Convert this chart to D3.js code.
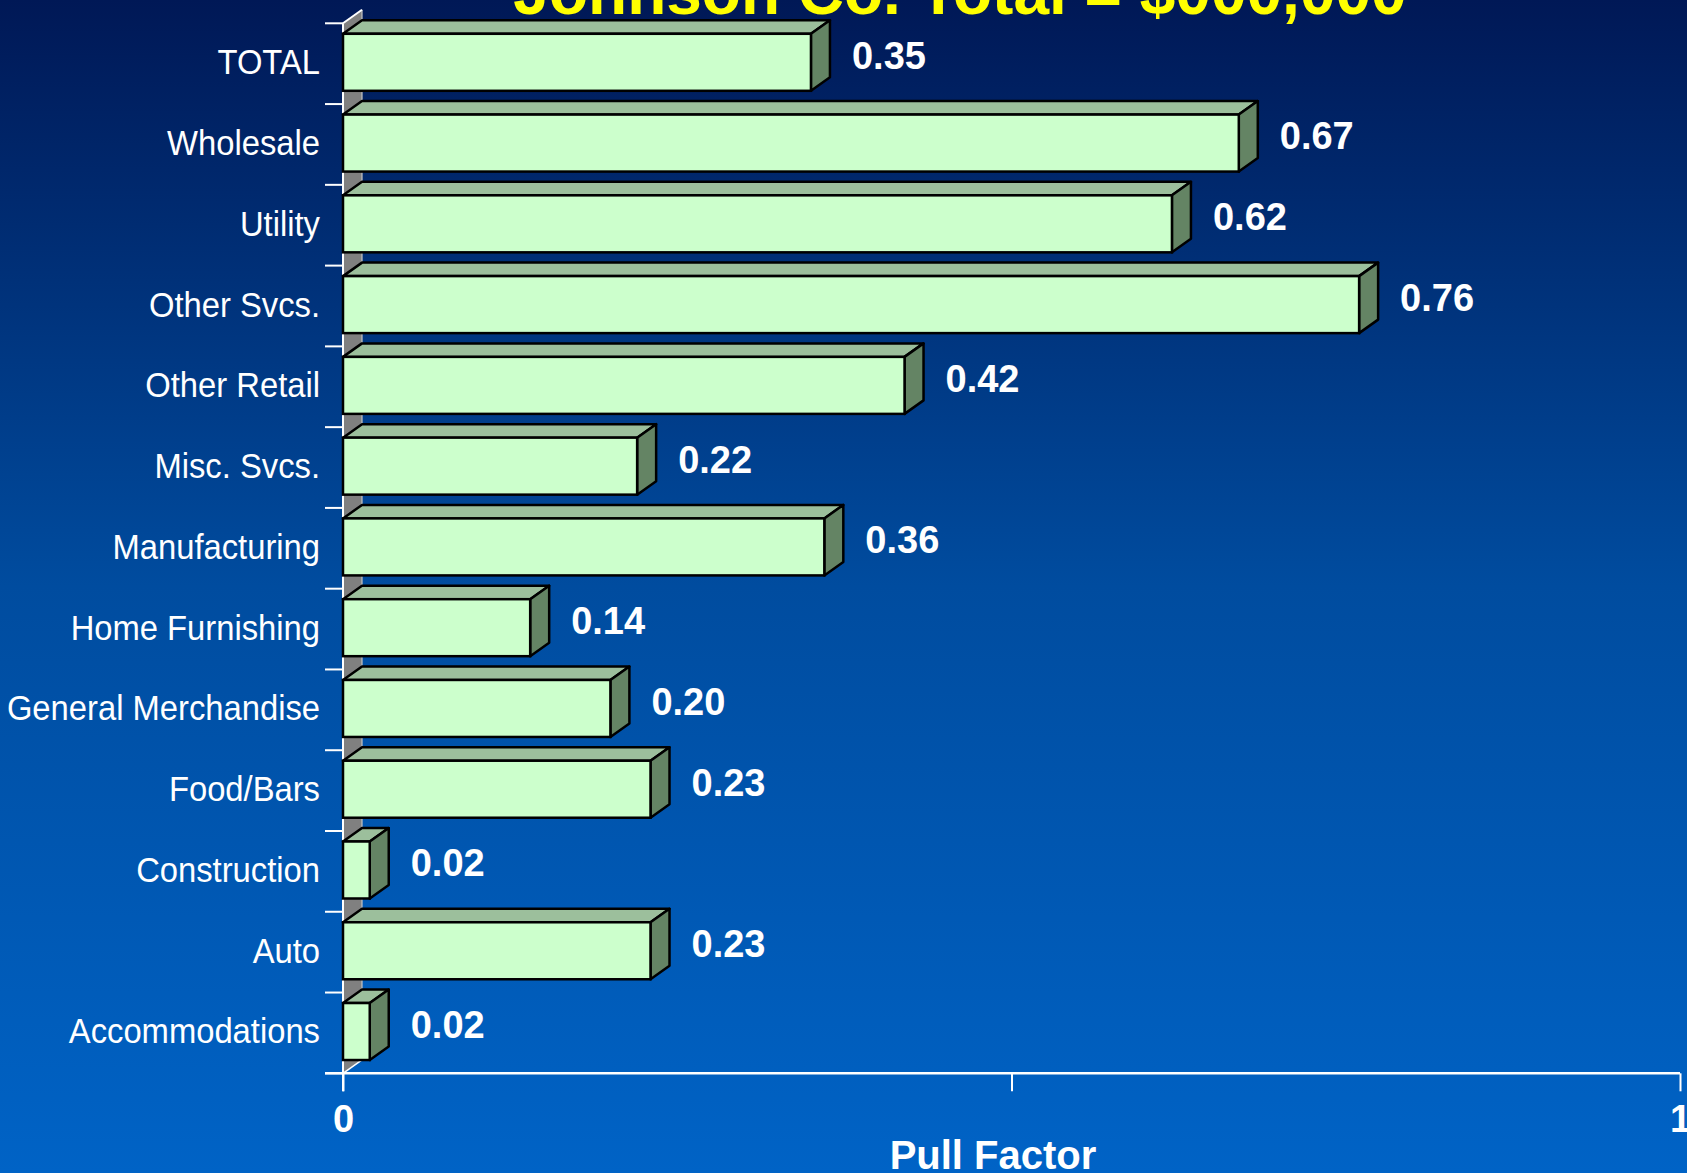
<!DOCTYPE html>
<html lang="en">
<head>
    <meta charset="UTF-8">
    <title>Johnson Co. Pull Factor</title>
    <script src="https://d3js.org/d3.v7.min.js"></script>
    <style>
        body { margin: 0; overflow: hidden; }
        svg { display: block; }
        .cat_label { font-family: "Liberation Sans", Arial, sans-serif; font-size: 36px; fill: #ffffff; }
        .val_label { font-family: "Liberation Sans", Arial, sans-serif; font-size: 38px; font-weight: bold; fill: #ffffff; }
    </style>
</head>
<body>
<svg width="1687" height="1173"></svg>

<script>
    // chart data
    const categories = ["TOTAL", "Wholesale", "Utility", "Other Svcs.", "Other Retail", "Misc. Svcs.",
        "Manufacturing", "Home Furnishing", "General Merchandise", "Food/Bars", "Construction", "Auto", "Accommodations"];
    const pullFactors = [0.35, 0.67, 0.62, 0.76, 0.42, 0.22, 0.36, 0.14, 0.20, 0.23, 0.02, 0.23, 0.02];
    const xTickValues = [0, 0.5, 1];
    const xTickLabels = ["0", "", "1"];
    const titleText = "Johnson Co. Total = $000,000";
    const axisTitle = "Pull Factor";

    const W = 1687, H = 1173;
    const plotLeft = 343, plotRight = 1680, plotTop = 23.3, plotBottom = 1073.3;
    const depthX = 19, depthY = 13.5;      // 3d offset of the bars
    const barOffset = 10.5, barH = 57;
    const edge = 2.5;

    let svg = d3.select("svg");

    // background gradient
    let grad = svg.append("defs").append("linearGradient")
        .attr("id", "bg").attr("x1", 0).attr("y1", 0).attr("x2", 0).attr("y2", 1);
    grad.append("stop").attr("offset", "0%").attr("stop-color", "#001856");
    grad.append("stop").attr("offset", "50%").attr("stop-color", "#004c9f");
    grad.append("stop").attr("offset", "100%").attr("stop-color", "#0063c6");
    svg.append("rect").attr("width", W).attr("height", H).attr("fill", "url(#bg)");

    let x = d3.scaleLinear().domain([0, 1]).range([plotLeft, plotRight]);
    let y = d3.scaleBand().domain(categories).range([plotTop, plotBottom]).padding(0);

    // gray side wall
    svg.append("path")
        .attr("d", `M${plotLeft},${plotTop} L${plotLeft + depthX},${plotTop - depthY} L${plotLeft + depthX},${plotBottom - depthY} L${plotLeft},${plotBottom} Z`)
        .attr("fill", "#808080");
    svg.append("line")
        .attr("x1", plotLeft + depthX).attr("x2", plotLeft + depthX)
        .attr("y1", plotTop - depthY).attr("y2", plotBottom - depthY)
        .attr("stroke", "#c4c4c4").attr("stroke-width", 1.2);
    svg.append("line")
        .attr("x1", plotLeft).attr("y1", plotTop).attr("x2", plotLeft + depthX).attr("y2", plotTop - depthY)
        .attr("stroke", "#ffffff").attr("stroke-width", 2);
    svg.append("line")
        .attr("x1", plotLeft).attr("y1", plotBottom).attr("x2", plotLeft + depthX).attr("y2", plotBottom - depthY)
        .attr("stroke", "#ffffff").attr("stroke-width", 1.5);

    // category axis: line + ticks between categories
    let boundaries = categories.map(c => y(c)).concat([plotBottom]);
    svg.append("g").selectAll("line")
        .data(boundaries)
        .enter()
        .append("line")
        .attr("x1", plotLeft - 18).attr("x2", plotLeft)
        .attr("y1", d => d).attr("y2", d => d)
        .attr("stroke", "#ffffff").attr("stroke-width", 2);
    svg.append("line")
        .attr("x1", plotLeft).attr("x2", plotLeft).attr("y1", plotTop).attr("y2", plotBottom + 18)
        .attr("stroke", "#ffffff").attr("stroke-width", 2);

    // value axis
    let xAxis = svg.append("g")
        .attr("transform", `translate(0,${plotBottom})`)
        .call(d3.axisBottom(x).tickValues(xTickValues).tickSize(18).tickPadding(14)
            .tickFormat((d, i) => xTickLabels[i]));
    xAxis.select(".domain").remove();
    xAxis.selectAll(".tick line").attr("stroke", "#ffffff").attr("stroke-width", 2);
    xAxis.selectAll(".tick text")
        .attr("fill", "#ffffff")
        .attr("font-family", "Liberation Sans, Arial, sans-serif")
        .attr("font-size", "38px")
        .attr("font-weight", "bold");
    svg.append("line")
        .attr("x1", plotLeft - 18).attr("x2", plotRight).attr("y1", plotBottom).attr("y2", plotBottom)
        .attr("stroke", "#ffffff").attr("stroke-width", 2.5);

    // bars
    let bars = svg.append("g").selectAll("g")
        .data(categories.map((c, i) => ({cat: c, value: pullFactors[i]})))
        .enter()
        .append("g");

    bars.append("path")   // top face
        .attr("d", d => {
            let x0 = x(0), x1 = x(d.value), t = y(d.cat) + barOffset;
            return `M${x0},${t} L${x1},${t} L${x1 + depthX},${t - depthY} L${x0 + depthX},${t - depthY} Z`;
        })
        .attr("fill", "#9cbf9c").attr("stroke", "#000").attr("stroke-width", edge).attr("stroke-linejoin", "round");

    bars.append("path")   // side face
        .attr("d", d => {
            let x1 = x(d.value), t = y(d.cat) + barOffset;
            return `M${x1},${t} L${x1 + depthX},${t - depthY} L${x1 + depthX},${t + barH - depthY} L${x1},${t + barH} Z`;
        })
        .attr("fill", "#648464").attr("stroke", "#000").attr("stroke-width", edge).attr("stroke-linejoin", "round");

    bars.append("rect")   // front face
        .attr("x", x(0))
        .attr("y", d => y(d.cat) + barOffset)
        .attr("width", d => x(d.value) - x(0))
        .attr("height", barH)
        .attr("fill", "#ccffcc").attr("stroke", "#000").attr("stroke-width", edge);

    // value labels
    bars.append("text")
        .attr("class", "val_label")
        .attr("x", d => x(d.value) + depthX + 22)
        .attr("y", d => y(d.cat) + y.bandwidth() / 2 - 8)
        .attr("dominant-baseline", "central")
        .text(d => d3.format(".2f")(d.value));

    // category labels
    svg.append("g").selectAll("text")
        .data(categories)
        .enter()
        .append("text")
        .attr("class", "cat_label")
        .attr("text-anchor", "end")
        .attr("dominant-baseline", "central")
        .attr("transform", d => `translate(320,${y(d) + y.bandwidth() / 2 - 2}) scale(0.91,1)`)
        .text(d => d);

    // axis title
    svg.append("text")
        .attr("x", 993).attr("y", 1169)
        .attr("text-anchor", "middle")
        .attr("font-family", "Liberation Sans, Arial, sans-serif")
        .attr("font-size", "40px").attr("font-weight", "bold")
        .attr("fill", "#ffffff")
        .text(axisTitle);

    // slide title, cut off by the top edge
    svg.append("text")
        .attr("x", 960).attr("y", 14)
        .attr("text-anchor", "middle")
        .attr("font-family", "Liberation Sans, Arial, sans-serif")
        .attr("font-size", "64px").attr("font-weight", "bold")
        .attr("fill", "#ffff00")
        .text(titleText);
</script>
</body>
</html>
